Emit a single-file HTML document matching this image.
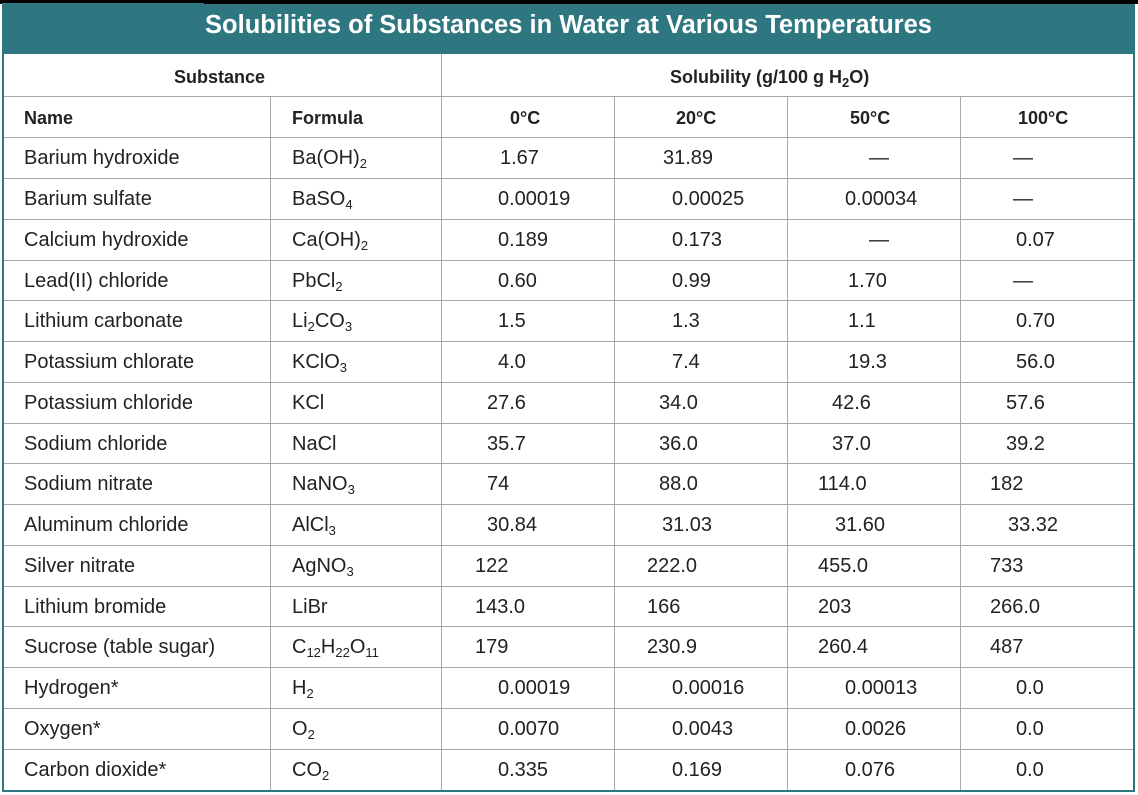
<!DOCTYPE html>
<html><head><meta charset="utf-8"><style>
*{margin:0;padding:0;box-sizing:border-box}
body{width:1138px;height:795px;background:#fff;position:relative;overflow:hidden;font-family:"Liberation Sans",sans-serif;color:#222}
.t{position:absolute;font-size:20px;white-space:nowrap;line-height:22px}
.b{font-weight:bold;font-size:18px}
.h{position:absolute;height:1px;background:#a8a8a8}
.v{position:absolute;width:1px;background:#a8a8a8}
sub{font-size:13px;vertical-align:-4px;line-height:0}
</style></head><body>
<div style="position:absolute;left:0;top:0;width:1138px;height:4px;background:#000"></div>
<div style="position:absolute;left:2px;top:3px;width:202px;height:2px;background:#2f7780"></div>
<div style="position:absolute;left:2px;top:4px;width:1133px;height:788px;border:2px solid #2f7780;"></div>
<div style="position:absolute;left:2px;top:4px;width:1133px;height:50px;background:#2f7780"></div>
<div style="position:absolute;left:2px;top:11px;width:1133px;text-align:center;color:#fff;font-weight:bold;font-size:25.5px">Solubilities of Substances in Water at Various Temperatures</div>
<div id="g"></div>
<script>
var g='';
var ys=[96,137,178,219,260,300,341,382,423,463,504,545,586,626,667,708,749];
ys.forEach(function(y){g+='<div class="h" style="left:4px;width:1129px;top:'+y+'px"></div>';});
g+='<div class="v" style="left:441px;top:54px;height:736px"></div>';
[270,614,787,960].forEach(function(x){g+='<div class="v" style="left:'+x+'px;top:96px;height:694px"></div>';});
g+='<div class="t b" style="left:174px;top:66px">Substance</div>';
g+='<div class="t b" style="left:670px;top:66px">Solubility (g/100 g H<sub>2</sub>O)</div>';
g+='<div class="t b" style="left:24px;top:107px">Name</div><div class="t b" style="left:292px;top:107px">Formula</div>';
g+='<div class="t b" style="left:510px;top:107px">0°C</div><div class="t b" style="left:676px;top:107px">20°C</div><div class="t b" style="left:850px;top:107px">50°C</div><div class="t b" style="left:1018px;top:107px">100°C</div>';
var D=[
["Barium hydroxide","Ba(OH)<sub>2</sub>",[500,"1.67"],[663,"31.89"],[869,"—"],[1013,"—"]],
["Barium sulfate","BaSO<sub>4</sub>",[498,"0.00019"],[672,"0.00025"],[845,"0.00034"],[1013,"—"]],
["Calcium hydroxide","Ca(OH)<sub>2</sub>",[498,"0.189"],[672,"0.173"],[869,"—"],[1016,"0.07"]],
["Lead(II) chloride","PbCl<sub>2</sub>",[498,"0.60"],[672,"0.99"],[848,"1.70"],[1013,"—"]],
["Lithium carbonate","Li<sub>2</sub>CO<sub>3</sub>",[498,"1.5"],[672,"1.3"],[848,"1.1"],[1016,"0.70"]],
["Potassium chlorate","KClO<sub>3</sub>",[498,"4.0"],[672,"7.4"],[848,"19.3"],[1016,"56.0"]],
["Potassium chloride","KCl",[487,"27.6"],[659,"34.0"],[832,"42.6"],[1006,"57.6"]],
["Sodium chloride","NaCl",[487,"35.7"],[659,"36.0"],[832,"37.0"],[1006,"39.2"]],
["Sodium nitrate","NaNO<sub>3</sub>",[487,"74"],[659,"88.0"],[818,"114.0"],[990,"182"]],
["Aluminum chloride","AlCl<sub>3</sub>",[487,"30.84"],[662,"31.03"],[835,"31.60"],[1008,"33.32"]],
["Silver nitrate","AgNO<sub>3</sub>",[475,"122"],[647,"222.0"],[818,"455.0"],[990,"733"]],
["Lithium bromide","LiBr",[475,"143.0"],[647,"166"],[818,"203"],[990,"266.0"]],
["Sucrose (table sugar)","C<sub>12</sub>H<sub>22</sub>O<sub>11</sub>",[475,"179"],[647,"230.9"],[818,"260.4"],[990,"487"]],
["Hydrogen*","H<sub>2</sub>",[498,"0.00019"],[672,"0.00016"],[845,"0.00013"],[1016,"0.0"]],
["Oxygen*","O<sub>2</sub>",[498,"0.0070"],[672,"0.0043"],[845,"0.0026"],[1016,"0.0"]],
["Carbon dioxide*","CO<sub>2</sub>",[498,"0.335"],[672,"0.169"],[845,"0.076"],[1016,"0.0"]]
];
D.forEach(function(r,i){var y=ys[i+1]+10;
g+='<div class="t" style="left:24px;top:'+y+'px">'+r[0]+'</div>';
g+='<div class="t" style="left:292px;top:'+y+'px">'+r[1]+'</div>';
for(var k=2;k<6;k++)g+='<div class="t" style="left:'+r[k][0]+'px;top:'+y+'px">'+r[k][1]+'</div>';
});
document.getElementById('g').innerHTML=g;
</script>
</body></html>
